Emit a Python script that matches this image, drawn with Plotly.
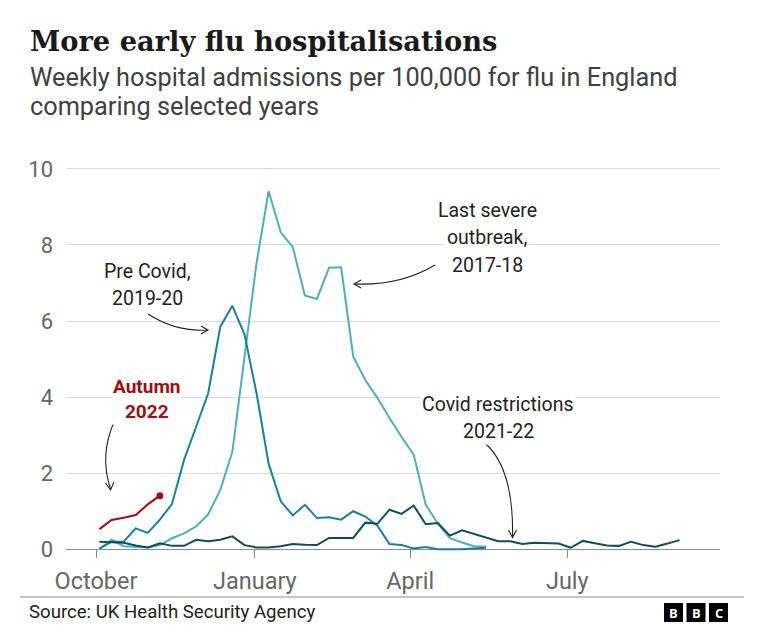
import pandas as pd
import plotly.graph_objects as go

# ---------------- data ----------------
week_start = "2022-10-03"
month_ticks = ["2022-10-01", "2023-01-01", "2023-04-01", "2023-07-01"]
month_labels = ["October", "January", "April", "July"]
y_ticks = [0, 2, 4, 6, 8, 10]

severe_2017_18 = [0.0, 0.25, 0.08, 0.07, 0.05, 0.11, 0.29, 0.42, 0.60, 0.92,
                  1.56, 2.57, 5.07, 7.53, 9.41, 8.33, 7.94, 6.67, 6.58, 7.40,
                  7.41, 5.07, 4.45, 3.98, 3.45, 2.95, 2.49, 1.17, 0.68, 0.29,
                  0.18, 0.08, 0.07]
pre_covid_2019_20 = [0.02, 0.20, 0.20, 0.55, 0.43, 0.78, 1.19, 2.35, 3.22, 4.10,
                     5.85, 6.40, 5.65, 4.10, 2.25, 1.26, 0.89, 1.17, 0.82, 0.84,
                     0.78, 1.00, 0.86, 0.62, 0.14, 0.11, 0.02, 0.06, 0.0, 0.0,
                     0.0, 0.02, 0.04]
covid_2021_22 = [0.20, 0.18, 0.17, 0.10, 0.05, 0.16, 0.09, 0.09, 0.25, 0.21,
                 0.25, 0.34, 0.11, 0.05, 0.05, 0.08, 0.14, 0.12, 0.11, 0.30,
                 0.30, 0.30, 0.70, 0.67, 1.04, 0.93, 1.15, 0.66, 0.69, 0.36,
                 0.50, 0.40, 0.31, 0.21, 0.21, 0.14, 0.17, 0.16, 0.15, 0.04,
                 0.22, 0.16, 0.10, 0.09, 0.20, 0.11, 0.07, 0.15, 0.24]
autumn_2022 = [0.53, 0.77, 0.83, 0.90, 1.18, 1.41]

# ---------------- layout geometry ----------------
W_, H_ = 764, 643
L, R, T, B = 66, 720, 165, 555
PW, PH = R - L, B - T


def px(x):
    return (x - L) / PW


def py(y):
    return (B - y) / PH


def weeks(n):
    return pd.date_range(week_start, periods=n, freq="7D")


COL_SEVERE = "#4eaebd"
COL_PRE = "#1a7f9e"
COL_COVID = "#0e4d5c"
COL_RED = "#a10d0d"
SANS = "Roboto, 'Open Sans', sans-serif"

fig = go.Figure()
fig.add_trace(go.Scatter(x=weeks(len(severe_2017_18)), y=severe_2017_18, mode="lines",
                         line=dict(color=COL_SEVERE, width=2), name="2017-18"))
fig.add_trace(go.Scatter(x=weeks(len(pre_covid_2019_20)), y=pre_covid_2019_20, mode="lines",
                         line=dict(color=COL_PRE, width=2), name="2019-20"))
fig.add_trace(go.Scatter(x=weeks(len(covid_2021_22)), y=covid_2021_22, mode="lines",
                         line=dict(color=COL_COVID, width=2), name="2021-22"))
fig.add_trace(go.Scatter(x=weeks(len(autumn_2022)), y=autumn_2022, mode="lines",
                         line=dict(color=COL_RED, width=2), name="2022"))
fig.add_trace(go.Scatter(x=weeks(len(autumn_2022))[-1:], y=autumn_2022[-1:], mode="markers",
                         marker=dict(color=COL_RED, size=7), name="latest"))

annotations = []


def ann(text, x, y, size=19.5, color="#222222", bold=False, xanchor="center",
        yanchor="middle", bg=None, font=SANS):
    t = f"<b>{text}</b>" if bold else text
    d = dict(text=t, x=px(x), y=py(y), xref="paper", yref="paper", showarrow=False,
             xanchor=xanchor, yanchor=yanchor, font=dict(size=size, color=color, family=font))
    if bg:
        d.update(bgcolor=bg, borderpad=1)
    annotations.append(d)


# title / subtitle
ann("More early flu hospitalisations", 28, 41, size=27.3, bold=True, xanchor="left",
    color="#1a1a1a", font="'DejaVu Serif', serif")
ann("Weekly hospital admissions per 100,000 for flu in England", 28, 78, size=25.3,
    xanchor="left", color="#404040")
ann("comparing selected years", 28, 106, size=25.3, xanchor="left", color="#404040")

# labels
ann("Pre Covid,", 147, 271)
ann("2019-20", 147, 298)
ann("Last severe", 487, 210, bg="white")
ann("outbreak,", 487, 237, bg="white")
ann("2017-18", 487, 265, bg="white")
ann("Covid restrictions", 498, 404, bg="white")
ann("2021-22", 498, 431, bg="white")
ann("Autumn<br>2022", 146, 398.5, size=19, color=COL_RED, bold=True, bg="white")

# footer
ann("Source: UK Health Security Agency", 27, 612, size=18.6, xanchor="left", color="#222222")
for i, letter in enumerate("BBC"):
    x0 = 664 + i * 22.5
    ann(letter, x0 + 9.5, 612.5, size=13, color="white", bold=True,
        font="'Open Sans', sans-serif")

shapes = []
shapes.append(dict(type="line", xref="paper", yref="paper", x0=px(20), x1=px(744),
                   y0=py(597), y1=py(597), line=dict(color="#8c8c8c", width=1)))
for i in range(3):
    x0 = 664 + i * 22.5
    shapes.insert(0, dict(type="rect", xref="paper", yref="paper", x0=px(x0), x1=px(x0 + 19),
                          y0=py(622), y1=py(603), fillcolor="black", line=dict(width=0)))


def path_shape(pts_str):
    shapes.append(dict(type="path", xref="paper", yref="paper", path=pts_str,
                       line=dict(color="#222222", width=1.1)))


def P(x, y):
    return f"{px(x):.5f},{py(y):.5f}"


# curved arrows (start, control, end) + open arrowheads
path_shape(f"M{P(148,314)} Q{P(176,332)} {P(207,330)}")
path_shape(f"M{P(201,326)} L{P(208,330)} L{P(201,334)}")

path_shape(f"M{P(435,265)} Q{P(400,286)} {P(354,284)}")
path_shape(f"M{P(361,280)} L{P(354,284)} L{P(361,288)}")

path_shape(f"M{P(486,444)} Q{P(514,470)} {P(512.5,537)}")
path_shape(f"M{P(508.5,530)} L{P(512.5,537.5)} L{P(516.5,530)}")

path_shape(f"M{P(115,420)} Q{P(99,454)} {P(110.5,489)}")
path_shape(f"M{P(105.5,483)} L{P(110.5,490)} L{P(114,482)}")

fig.update_layout(
    width=W_, height=H_,
    margin=dict(l=L, r=W_ - R, t=T, b=H_ - B, pad=0),
    paper_bgcolor="white", plot_bgcolor="white",
    showlegend=False,
    annotations=annotations,
    shapes=shapes,
    xaxis=dict(type="date", range=["2022-09-13 15:00", "2023-09-27 11:00"],
               tickvals=month_ticks, ticktext=month_labels,
               anchor="free", position=py(549.3),
               showline=True, linecolor="#8c8c8c", linewidth=1,
               ticks="outside", ticklen=8, tickcolor="#8c8c8c", tickwidth=1,
               showgrid=False, zeroline=False, layer="below traces",
               ticklabelstandoff=2,
               tickfont=dict(family=SANS, size=23.5, color="#666666")),
    yaxis=dict(range=[-0.15, 10.1], tickvals=y_ticks, showgrid=True,
               gridcolor="#dadada", gridwidth=1, zeroline=False, showline=False,
               ticks="", ticklabelstandoff=12,
               tickfont=dict(family=SANS, size=22, color="#666666")),
)

fig.write_html("out.html")
